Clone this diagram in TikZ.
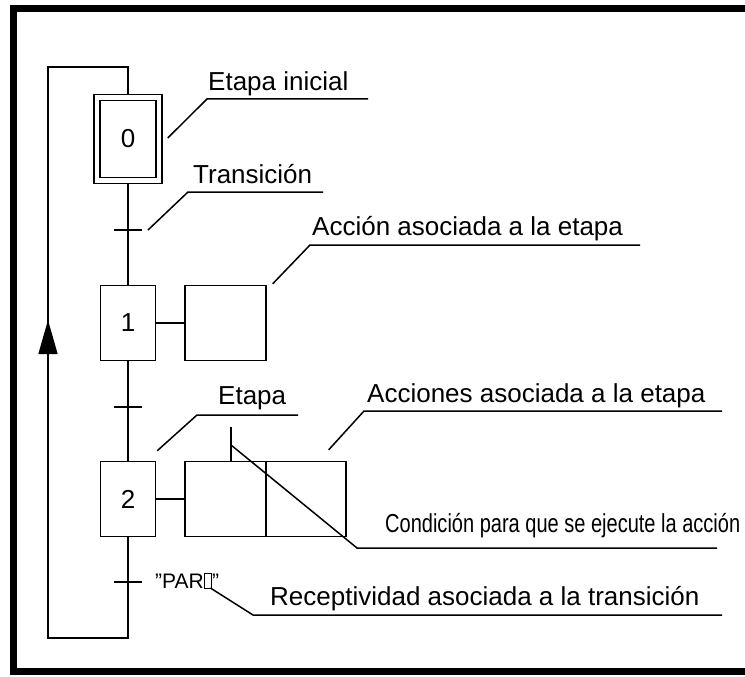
\documentclass[tikz,border=0pt]{standalone}
\usepackage{fontspec}
\setmainfont{Liberation Sans}
\usepackage{tikz}
\usetikzlibrary{positioning,arrows.meta,calc}

\newcommand{\glyphbox}{{\setlength{\fboxsep}{0pt}\setlength{\fboxrule}{1.2pt}\fbox{\rule{6pt}{0pt}\rule{0pt}{14pt}}}}

\begin{document}
\begin{tikzpicture}[x=1pt, y=-1pt,
  stage/.style={
    rectangle, draw=black, line width=1.5pt, inner sep=0pt,
    minimum width=55pt, minimum height=75pt, font=\fontsize{26}{26}\selectfont
  },
  initstage/.style={
    stage, double, double distance=4.5pt,
    minimum width=62pt, minimum height=83pt
  },
  actbox/.style={
    rectangle, draw=black, line width=1.5pt,
    minimum width=81pt, minimum height=75pt
  },
  wire/.style={
    line width=1.5pt, color=black
  },
  leader/.style={
    line width=1.5pt, color=black
  },
  note/.style={
    anchor=base west, inner sep=0pt, font=\fontsize{26}{26}\selectfont
  }
]
\useasboundingbox (0,0) rectangle (745,677);

% Frame
\draw[line width=7pt] (745,9) -- (13,9) -- (13,671) -- (745,671);

% Steps
\node[initstage] (s0) at (128,139) {0};
\node[stage] (s1) at (128,323) {1};
\node[stage] (s2) at (128,499) {2};

% Actions
\node[actbox, right=28pt of s1] (a1) {};
\node[actbox, right=28pt of s2] (a2l) {};
\node[actbox, minimum width=80pt, right=-1.5pt of a2l] (a2r) {};

% Transitions
\coordinate (t1) at (128,230);
\coordinate (t2) at (128,407);
\coordinate (t3) at (128,582);

% Edges
\draw[wire] ($(s0.south)+(0,3)$) -- (s1.north);
\draw[wire] (s1.south) -- (s2.north);
\foreach \t in {t1,t2,t3}
  \draw[wire] ($(\t)+(-14,0)$) -- ($(\t)+(14,0)$);
\draw[wire] (s1.east) -- (a1.west);
\draw[wire] (s2.east) -- (a2l.west);

% Return loop
\coordinate (lb) at (48,638);
\coordinate (lt) at (48,67);
\coordinate (tip) at (48,320);
\draw[wire] (s2.south) |- (lb) -- (lt) -| ($(s0.north)+(0,-3)$);
\draw[wire, -{Triangle[length=34pt, width=19pt]}] (lb) -- (tip);

% Condition
\coordinate (cq) at (231,427);
\coordinate (cd) at (231,445);
\coordinate (kc) at (357,548);
\draw[wire] (cq) -- ($(cq)+(0,35)$);
\draw[leader] (cd) -- (kc) -- ++(360,0);
\node[note] (condlbl) at (385,532) {\scalebox{0.77}[1]{Condición para que se ejecute la acción}};

% Labels
\coordinate (k0) at (207,99);
\draw[leader] ($(s0.east)+(8,-1)$) -- (k0) -- ++(161,0);
\node[note] (initlbl) at ($(k0)+(1,-8)$) {Etapa inicial};

\coordinate (k1) at (188,192);
\draw[leader] ($(t1)+(20,0)$) -- (k1) -- ++(135,0);
\node[note] (translbl) at ($(k1)+(5,-9)$) {Transición};

\coordinate (k2) at (310,245);
\draw[leader] ($(a1.north east)+(6,-1)$) -- (k2) -- ++(330,0);
\node[note] (actlbl) at ($(k2)+(2,-10)$) {Acción asociada a la etapa};

\coordinate (k3) at (197,415);
\draw[leader] ($(s2.north east)+(1,-10)$) -- (k3) -- ++(101,0);
\node[note] (steplbl) at ($(k3)+(21,-11)$) {Etapa};

\coordinate (k4) at (364,411);
\draw[leader] ($(a2r.north east)+(-18,-11)$) -- (k4) -- ++(358,0);
\node[note] (actslbl) at ($(k4)+(3,-9)$) {Acciones asociada a la etapa};

\node[note, font=\fontsize{21}{21}\selectfont] (paro) at (155,588) {"PAR\glyphbox"};
\coordinate (k6) at (253,615);
\draw[leader] ($(paro.base east)+(-9,0)$) -- (k6) -- ++(469,0);
\node[note] (reclbl) at ($(k6)+(17,-10)$) {Receptividad asociada a la transición};

\end{tikzpicture}
\end{document}
